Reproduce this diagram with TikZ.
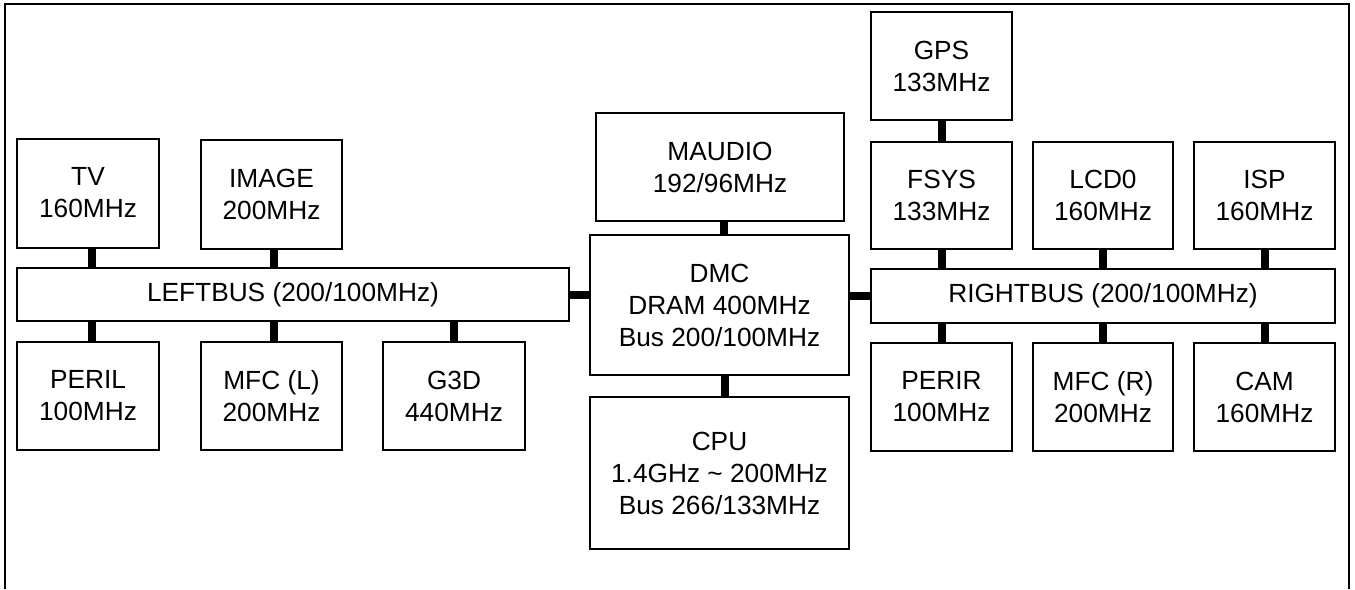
\documentclass[tikz,border=0pt]{standalone}
\usepackage{fontspec}
\setmainfont{Liberation Sans}
\begin{document}
\begin{tikzpicture}[x=0.75pt,y=-0.75pt,
  blk/.style={draw=black,line width=1.5pt,inner sep=0pt,align=center,
    font=\fontsize{19.7pt}{24pt}\selectfont},
  sz/.style 2 args={minimum width=#1*0.75pt,minimum height=#2*0.75pt},
  link/.style={line width=6pt,draw=black},
  frame/.style={line width=1.5pt,draw=black}]
\useasboundingbox (0,0) rectangle (1355,589);
\coordinate (f1) at (5,589);
\coordinate (f2) at (5,4);
\coordinate (f3) at (1349,4);
\coordinate (f4) at (1349,589);
\draw[frame] (f1) -- (f2) -- (f3) -- (f4);
% left side
\node[blk,sz={142}{109}] (tv) at (88,193) {TV\\160MHz};
\node[blk,sz={141}{109}] (img) at (271.5,194) {IMAGE\\200MHz};
\node[blk,sz={552}{53}] (lb) at (293,294.5) {LEFTBUS (200/100MHz)};
\node[blk,sz={142}{108}] (peril) at (88,396) {PERIL\\100MHz};
\node[blk,sz={141}{108}] (mfcl) at (271.5,396) {MFC (L)\\200MHz};
\node[blk,sz={142}{108}] (g3d) at (454,396) {G3D\\440MHz};
% center
\node[blk,sz={248}{108}] (maud) at (720,167) {MAUDIO\\192/96MHz};
\node[blk,sz={259}{140}] (dmc) at (719.5,305) {DMC\\DRAM 400MHz\\Bus 200/100MHz};
\node[blk,sz={259}{152}] (cpu) at (719.5,473) {CPU\\1.4GHz \textasciitilde\ 200MHz\\Bus 266/133MHz};
% right side
\node[blk,sz={141}{108}] (gps) at (941.5,66) {GPS\\133MHz};
\node[blk,sz={141}{107}] (fsys) at (941.5,195.5) {FSYS\\133MHz};
\node[blk,sz={140}{107}] (lcd) at (1103,195.5) {LCD0\\160MHz};
\node[blk,sz={141}{107}] (isp) at (1264.5,195.5) {ISP\\160MHz};
\node[blk,sz={464}{54}] (rb) at (1103,296) {RIGHTBUS (200/100MHz)};
\node[blk,sz={141}{108}] (perir) at (941.5,397) {PERIR\\100MHz};
\node[blk,sz={140}{108}] (mfcr) at (1103,397) {MFC (R)\\200MHz};
\node[blk,sz={141}{108}] (cam) at (1264.5,397) {CAM\\160MHz};
% connectors
\draw[link] ([xshift=3pt]tv.south) -- ([xshift=3pt]tv.south |- lb.north);
\draw[link] ([xshift=2pt]img.south) -- ([xshift=2pt]img.south |- lb.north);
\draw[link] ([xshift=3pt]peril.north) -- ([xshift=3pt]peril.north |- lb.south);
\draw[link] ([xshift=2pt]mfcl.north) -- ([xshift=2pt]mfcl.north |- lb.south);
\draw[link] (g3d.north) -- (g3d.north |- lb.south);
\draw[link] (lb.east) -- (lb.east -| dmc.west);
\draw[link] ([xshift=3pt]maud.south) -- ([xshift=3pt]maud.south |- dmc.north);
\draw[link] ([xshift=4pt]dmc.south) -- ([xshift=4pt]dmc.south |- cpu.north);
\draw[link] (rb.west) -- (rb.west -| dmc.east);
\draw[link] (gps.south) -- (gps.south |- fsys.north);
\draw[link] (fsys.south) -- (fsys.south |- rb.north);
\draw[link] (lcd.south) -- (lcd.south |- rb.north);
\draw[link] (isp.south) -- (isp.south |- rb.north);
\draw[link] (perir.north) -- (perir.north |- rb.south);
\draw[link] (mfcr.north) -- (mfcr.north |- rb.south);
\draw[link] (cam.north) -- (cam.north |- rb.south);
\end{tikzpicture}
\end{document}
